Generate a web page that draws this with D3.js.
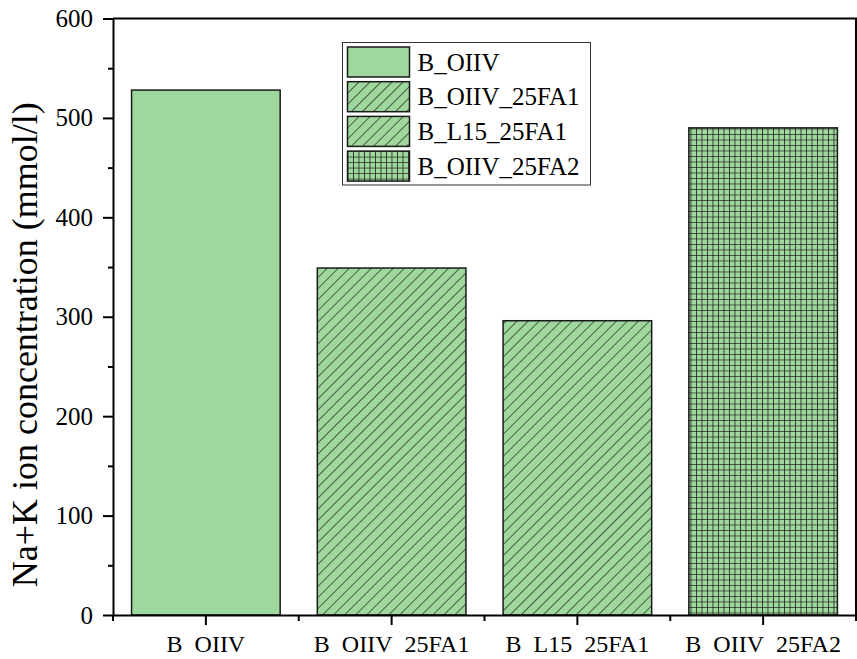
<!DOCTYPE html>
<html>
<head>
<meta charset="utf-8">
<script src="https://d3js.org/d3.v7.min.js"></script>
<style>
  body { margin: 0; background: #fff; }
  svg { display: block; font-family: "Liberation Serif", "Times New Roman", serif; }
</style>
</head>
<body>
<script>
// data
var categories = ["B_OIIV", "B_OIIV_25FA1", "B_L15_25FA1", "B_OIIV_25FA2"];
var values = [528, 349, 296, 490];
var fills = ["solid", "hatch", "hatch", "grid"];
var yTicks = [0, 100, 200, 300, 400, 500, 600];
var yMinorTicks = [50, 150, 250, 350, 450, 550];

var W = 857, H = 659;
var margin = {top: 18.5, right: 1, bottom: 44, left: 113};
var width = W - margin.left - margin.right,
    height = H - margin.top - margin.bottom;

var green = "#9fd89c";

var svg = d3.select("body").append("svg")
    .attr("width", W)
    .attr("height", H);

// patterns
var defs = svg.append("defs");
var hatch = defs.append("pattern")
    .attr("id", "hatch")
    .attr("patternUnits", "userSpaceOnUse")
    .attr("width", 7.8).attr("height", 7.8)
    .attr("patternTransform", "rotate(45)");
hatch.append("rect").attr("width", 7.8).attr("height", 7.8).attr("fill", green);
hatch.append("line").attr("x1", 0).attr("y1", 0).attr("x2", 0).attr("y2", 7.8)
    .attr("stroke", "#1a1a1a").attr("stroke-width", 1.3);

var grid = defs.append("pattern")
    .attr("id", "grid")
    .attr("patternUnits", "userSpaceOnUse")
    .attr("width", 5.5).attr("height", 5.5);
grid.append("rect").attr("width", 5.5).attr("height", 5.5).attr("fill", green);
grid.append("path").attr("d", "M0,0H5.5M0,0V5.5")
    .attr("stroke", "#1f1f1f").attr("stroke-width", 1.6).attr("fill", "none");

function fillOf(f) {
  if (f == "hatch") return "url(#hatch)";
  if (f == "grid") return "url(#grid)";
  return green;
}

var g = svg.append("g")
    .attr("transform", "translate(" + margin.left + "," + margin.top + ")");

var x = d3.scaleBand().domain(categories).range([0, width])
    .paddingInner(0.2).paddingOuter(0.1);
var y = d3.scaleLinear().domain([0, 600]).range([height, 0]);

// bars
g.selectAll(".bar")
    .data(categories)
  .enter().append("rect")
    .attr("class", "bar")
    .attr("x", function(d) { return x(d); })
    .attr("y", function(d, i) { return y(values[i]); })
    .attr("width", x.bandwidth())
    .attr("height", function(d, i) { return height - y(values[i]); })
    .attr("fill", function(d, i) { return fillOf(fills[i]); })
    .attr("stroke", "#1a1a1a")
    .attr("stroke-width", 1.5);

// frame (top and right)
g.append("path")
    .attr("d", "M0,0H" + width + "V" + height)
    .attr("fill", "none").attr("stroke", "#000").attr("stroke-width", 2);

// y axis
var yAxis = g.append("g")
    .call(d3.axisLeft(y).tickValues(yTicks).tickSize(10).tickPadding(10).tickSizeOuter(0));
yAxis.select(".domain").attr("stroke-width", 2);
yAxis.selectAll(".tick line").attr("stroke-width", 2);
yAxis.selectAll("text").attr("font-size", 25).attr("font-family", "Liberation Serif").attr("fill", "#000");

g.append("g")
    .call(d3.axisLeft(y).tickValues(yMinorTicks).tickSize(5).tickFormat(""))
    .call(function(s) { s.select(".domain").remove(); })
    .selectAll(".tick line").attr("stroke-width", 2);

// x axis (labels cut just under the baseline, like the original export)
var clip = defs.append("clipPath").attr("id", "labclip");
clip.append("rect").attr("x", -margin.left).attr("y", -5)
    .attr("width", W).attr("height", 43);

var xAxis = g.append("g")
    .attr("transform", "translate(0," + height + ")")
    .attr("clip-path", "url(#labclip)")
    .call(d3.axisBottom(x).tickSize(10).tickPadding(3).tickSizeOuter(0));
xAxis.select(".domain").attr("stroke-width", 2);
xAxis.selectAll(".tick line").attr("stroke-width", 2);
xAxis.selectAll("text").attr("font-size", 24).attr("font-family", "Liberation Serif")
    .attr("fill", "#000").attr("dy", null).attr("y", 37);

// minor x ticks at band edges
var edges = categories.map(function(d) { return x(d) - x.step() * x.paddingInner() / 2; });
edges.push(width);
g.append("g")
    .attr("transform", "translate(0," + height + ")")
    .selectAll("line")
    .data(edges)
  .enter().append("line")
    .attr("x1", function(d) { return d; }).attr("x2", function(d) { return d; })
    .attr("y1", 0).attr("y2", 6)
    .attr("stroke", "#000").attr("stroke-width", 2);

// y title
svg.append("text")
    .attr("transform", "translate(37," + (margin.top + height / 2 + 28) + ") rotate(-90)")
    .attr("text-anchor", "middle")
    .attr("font-size", 36)
    .text("Na+K ion concentration (mmol/l)");

// legend
var legend = svg.append("g").attr("transform", "translate(342.5,42.5)");
legend.append("rect")
    .attr("width", 248).attr("height", 142.5)
    .attr("fill", "#fff").attr("stroke", "#333").attr("stroke-width", 1);
var rows = legend.selectAll(".row")
    .data(categories)
  .enter().append("g")
    .attr("transform", function(d, i) { return "translate(5," + (4.5 + i * 34.7) + ")"; });
rows.append("rect")
    .attr("width", 62).attr("height", 30)
    .attr("fill", function(d, i) { return fillOf(fills[i]); })
    .attr("stroke", "#1a1a1a").attr("stroke-width", 1.5);
rows.append("text")
    .attr("x", 70).attr("y", 23.5)
    .attr("font-size", 25)
    .text(function(d) { return d; });
</script>
</body>
</html>
